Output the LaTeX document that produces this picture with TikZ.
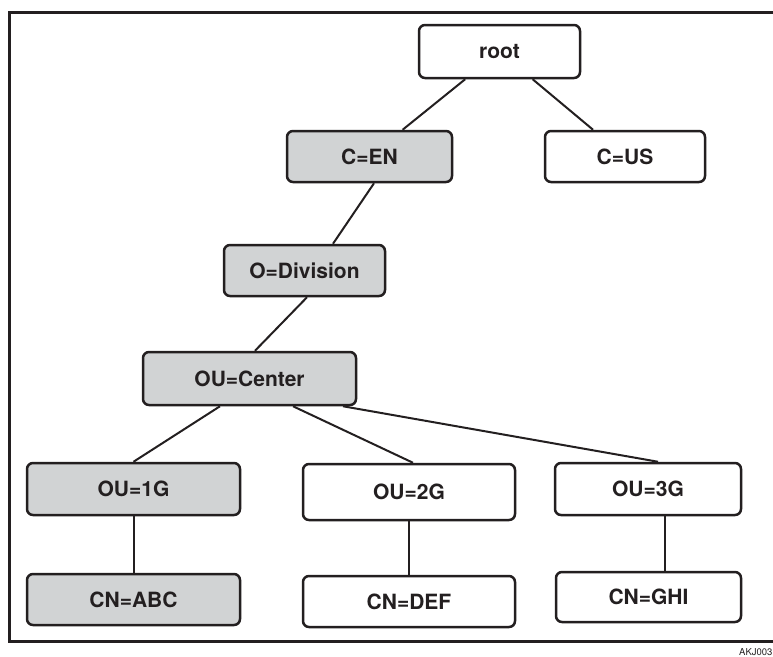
\documentclass[tikz,border=0pt]{standalone}
\usepackage{fontspec}
\setmainfont{TeX Gyre Heros}
\definecolor{boxgray}{RGB}{209,211,212}
\definecolor{ink}{RGB}{35,31,32}
\begin{document}
\begin{tikzpicture}[x=1pt, y=-1pt,
    entry/.style={draw=ink, line width=2.5pt, rounded corners=6pt, fill=white,
        text=ink, font=\fontsize{21}{25}\selectfont\bfseries, inner sep=0pt},
    shaded/.style={entry, fill=boxgray},
    link/.style={draw=ink, line width=2pt}]
    \useasboundingbox (0,0) rectangle (773,656);
    \draw[ink, line width=3pt] (790,12) -- (9,12) -- (9,641) -- (790,641);
    % tree
    \node[entry,  minimum width=161, minimum height=53] (root)  at (499.5,51.5) {root};
    \node[shaded, minimum width=165, minimum height=51] (cen)   at (369.5,156.5) {C=EN};
    \node[entry,  minimum width=160, minimum height=51] (cus)   at (625,156.5) {C=US};
    \node[shaded, minimum width=161, minimum height=51] (odiv)  at (304.5,270.5) {O=Division};
    \node[shaded, minimum width=213, minimum height=53] (oucen) at (249.5,378.5) {OU=Center};
    \node[shaded, minimum width=213, minimum height=52] (ou1)   at (133.5,489) {OU=1G};
    \node[entry,  minimum width=212, minimum height=56] (ou2)   at (409,492) {OU=2G};
    \node[entry,  minimum width=186, minimum height=52] (ou3)   at (648,489) {OU=3G};
    \node[shaded, minimum width=213, minimum height=51] (cn1)   at (133.5,599.5) {CN=ABC};
    \node[entry,  minimum width=212, minimum height=51] (cn2)   at (409,601.5) {CN=DEF};
    \node[entry,  minimum width=185, minimum height=50] (cn3)   at (648.5,597) {CN=GHI};
    % links
    \draw[link] (root) -- (cen);
    \draw[link] (root) -- (cus);
    \draw[link] ([xshift=4.5pt]cen.south) -- ([xshift=28.5pt]odiv.north);
    \draw[link] ([xshift=2.5pt]odiv.south) -- ([xshift=5.5pt]oucen.north);
    \draw[link] ([xshift=-29.5pt]oucen.south) -- (ou1.north);
    \draw[link] ([xshift=43.5pt]oucen.south) -- ([xshift=4pt]ou2.north);
    \draw[link] ([xshift=93.5pt]oucen.south) -- ([xshift=10pt]ou3.north);
    \draw[link] (ou1) -- (cn1);
    \draw[link] (ou2) -- (cn2);
    \draw[link] ([xshift=17pt]ou3.south) -- ([xshift=16.5pt]cn3.north);
    \node[anchor=base west, text=ink, font=\fontsize{9.5}{10}\selectfont, inner sep=0pt] (tag) at (739,655) {AKJ003};
\end{tikzpicture}
\end{document}
